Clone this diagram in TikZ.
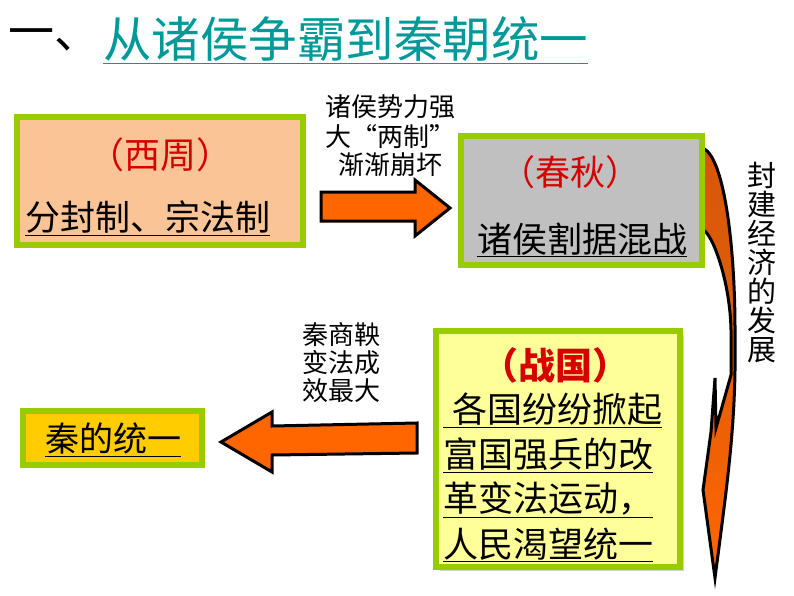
\documentclass[tikz,border=0pt]{standalone}
\usepackage{fontspec}
\setmainfont{Liberation Sans}
\newfontfamily\cjk{Noto Sans CJK SC}
\usetikzlibrary{shadows}
\definecolor{tealT}{RGB}{0,153,153}
\definecolor{gborder}{RGB}{153,204,0}
\definecolor{peach}{RGB}{250,196,150}
\definecolor{grayfill}{RGB}{192,192,192}
\definecolor{lyellow}{RGB}{255,255,153}
\definecolor{goldfill}{RGB}{255,204,0}
\definecolor{arrorange}{RGB}{255,102,0}
\definecolor{darkorange}{RGB}{212,88,10}
\definecolor{redT}{RGB}{215,0,0}
\newcommand{\fs}[1]{\fontsize{#1}{#1}\selectfont}
\tikzset{
  box/.style={draw=gborder, line width=6pt},
  blockarrow/.style={fill=arrorange, draw=black, line width=3pt, line join=miter},
  txt/.style={inner sep=0pt, font=\cjk},
  head/.style={txt, text=redT},
}
\begin{document}
\begin{tikzpicture}[x=1pt,y=-1pt]
\useasboundingbox (0,0) rectangle (794,596);
% title
\node[txt, anchor=west, font=\cjk\fs{46}] (t1) at (8,40) {一、};
\node[txt, anchor=west, text=tealT, font=\cjk\fs{48.5}] (t2) at (103,40) {\underline{从诸侯争霸到秦朝统一}};

% curved arrow (drawn before box 2)
\path[draw=black, line width=3pt, line join=miter, top color=darkorange, bottom color=arrorange, middle color=darkorange!60!arrorange]
  (703,148) .. controls (725,158) and (735,250) .. (735,330) -- (735,370)
  .. controls (734,440) and (725,500) .. (715,578)
  -- (703,490) -- (711,432) -- (715,378) -- (716,428) -- (731,375) -- (731,330)
  .. controls (730,280) and (712,233) .. (703,230) -- cycle;

% boxes
\draw[box, fill=peach] (17,117) rectangle (303,245);
\coordinate (b1) at (160,181);
\draw[box, fill=grayfill] (461,136) rectangle (702,265);
\draw[box, fill=lyellow, drop shadow={shadow xshift=4pt, shadow yshift=-4pt, fill=gray!70}] (436,331) rectangle (680,567);
\draw[box, fill=goldfill] (23,411) rectangle (202,465);

% box texts
\node[head, font=\cjk\fs{36}] (h1) at (160,155) {（西周）};
\node[txt, anchor=west, font=\cjk\fs{35}] (c1) at (25,218) {\underline{分封制、宗法制}};
\node[head, font=\cjk\fs{35}] (h2) at (570,172) {（春秋）};
\node[txt, font=\cjk\fs{35}] (c2) at (582,240) {\underline{诸侯割据混战}};
\node[head, font=\cjk\bfseries\fs{37}] (h3) at (555,365) {（战国）};
\node[txt, anchor=west, font=\cjk\fs{35}] (c3a) at (443,410) {\underline{\hspace{9pt}各国纷纷掀起}};
\node[txt, anchor=west, font=\cjk\fs{35}] (c3b) at (443,455) {\underline{富国强兵的改}};
\node[txt, anchor=west, font=\cjk\fs{35}] (c3c) at (443,500) {\underline{革变法运动，}};
\node[txt, anchor=west, font=\cjk\fs{35}] (c3d) at (443,545) {\underline{人民渴望统一}};
\node[txt, font=\cjk\fs{34}] (c4) at (113,440) {\underline{秦的统一}};

% block arrows
\draw[blockarrow] (321,192) -- (415,192) -- (415,180) -- (450,208) -- (415,236) -- (415,221) -- (321,221) -- cycle;
\draw[blockarrow] (417,423) -- (272,426) -- (272,412) -- (221,442) -- (272,472) -- (272,455) -- (417,453) -- cycle;

% labels
\node[txt, font=\cjk\fs{26}] (l1a) at (390,107) {诸侯势力强};
\node[txt, font=\cjk\fs{26}] (l1b) at (390,137) {大“两制”};
\node[txt, font=\cjk\fs{26}] (l1c) at (390,165) {渐渐崩坏};
\node[txt, font=\cjk\fs{26}, align=center] (l2) at (341,363) {秦商鞅\\[2pt]变法成\\[2pt]效最大};
\node[txt, font=\cjk\fs{29}, align=center] (l3) at (762,262) {封\\建\\经\\济\\的\\发\\展};
\end{tikzpicture}
\end{document}
